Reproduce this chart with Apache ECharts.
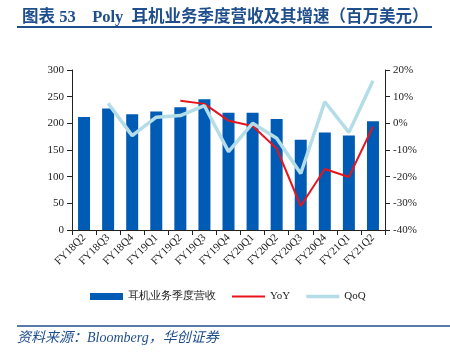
<!DOCTYPE html>
<html><head><meta charset="utf-8">
<script src="https://cdn.jsdelivr.net/npm/echarts@6/dist/echarts.min.js"></script>
<style>html,body{margin:0;padding:0;background:#fff}#c{width:450px;height:355px}</style>
</head><body><div id="c"></div>
<script>
var categories = ['FY18Q2','FY18Q3','FY18Q4','FY19Q1','FY19Q2','FY19Q3','FY19Q4','FY20Q1','FY20Q2','FY20Q3','FY20Q4','FY21Q1','FY21Q2'];
var revenue = [212, 228, 217, 222, 230, 245, 220, 220, 208, 169, 183, 177, 204];
var yoy = [null, null, null, null, 8.5, 7.3, 1.0, -1.0, -9.4, -31.0, -17.1, -20.1, -1.3];
var qoq = [null, 7.5, -4.6, 2.3, 2.9, 6.6, -10.6, 0.0, -5.6, -18.8, 8.1, -3.4, 16.0];
var leftTicks = [0, 300, 50];
var rightTicks = [-40, 20, 10];

var serif = '"Liberation Serif","Times New Roman",serif';
var chart = echarts.init(document.getElementById('c'));
chart.setOption({
  animation: false,
  title: {
    text: '图表 53    Poly  耳机业务季度营收及其增速（百万美元）',
    left: 17, top: 4,
    textStyle: {color: '#1f4e8c', fontSize: 16.5, fontWeight: 'bold', fontFamily: '"Liberation Serif","Noto Sans CJK SC",serif'}
  },
  graphic: [
    {type: 'line', shape: {x1: 17, y1: 27, x2: 432, y2: 27}, style: {stroke: '#1f4e8c', lineWidth: 2}},
    {type: 'line', shape: {x1: 17, y1: 326, x2: 450, y2: 326}, style: {stroke: '#1f4e8c', lineWidth: 1.5}},
    {type: 'text', left: 17, top: 331, style: {text: '资料来源：Bloomberg，华创证券', fill: '#1f4e8c', font: 'italic 14px "Liberation Serif","Noto Sans CJK SC",serif'}}
  ],
  grid: {left: 72, right: 65, top: 70, bottom: 125},
  legend: {
    bottom: 48, left: 85,
    itemGap: 16, itemWidth: 33, itemHeight: 8,
    textStyle: {fontFamily: serif, fontSize: 11, color: '#222'},
    data: [
      {name: '耳机业务季度营收', icon: 'path://M0,0.5 H33 V7.5 H0 Z'},
      {name: 'YoY', icon: 'path://M0,0 L0.01,0 Z M0,3 H33 V5 H0 Z M0,8 L0.01,8 Z'},
      {name: 'QoQ', icon: 'path://M0,0 L0.01,0 Z M0,2.3 H33 V5.7 H0 Z M0,8 L0.01,8 Z'}
    ]
  },
  xAxis: {
    type: 'category', data: categories,
    axisLine: {lineStyle: {color: '#222'}},
    axisTick: {show: true, lineStyle: {color: '#222'}},
    axisLabel: {rotate: 45, interval: 0, fontFamily: serif, fontSize: 11, color: '#222', margin: 6}
  },
  yAxis: [
    {type: 'value', min: leftTicks[0], max: leftTicks[1], interval: leftTicks[2],
     splitLine: {show: false}, axisLine: {show: true, lineStyle: {color: '#222'}},
     axisTick: {show: true}, axisLabel: {fontFamily: serif, fontSize: 11, color: '#222'}},
    {type: 'value', min: rightTicks[0], max: rightTicks[1], interval: rightTicks[2],
     splitLine: {show: false}, axisLine: {show: true, lineStyle: {color: '#222'}},
     axisTick: {show: true}, axisLabel: {formatter: '{value}%', fontFamily: serif, fontSize: 11, color: '#222'}}
  ],
  series: [
    {name: '耳机业务季度营收', type: 'bar', data: revenue, barWidth: 12, itemStyle: {color: '#005bb5'}},
    {name: 'YoY', type: 'line', yAxisIndex: 1, data: yoy, symbol: 'none', lineStyle: {color: '#e8141c', width: 2}, itemStyle: {color: '#e8141c'}},
    {name: 'QoQ', type: 'line', yAxisIndex: 1, data: qoq, symbol: 'none', lineStyle: {color: '#b4dde8', width: 3.5}, itemStyle: {color: '#b4dde8'}}
  ]
});
</script></body></html>
